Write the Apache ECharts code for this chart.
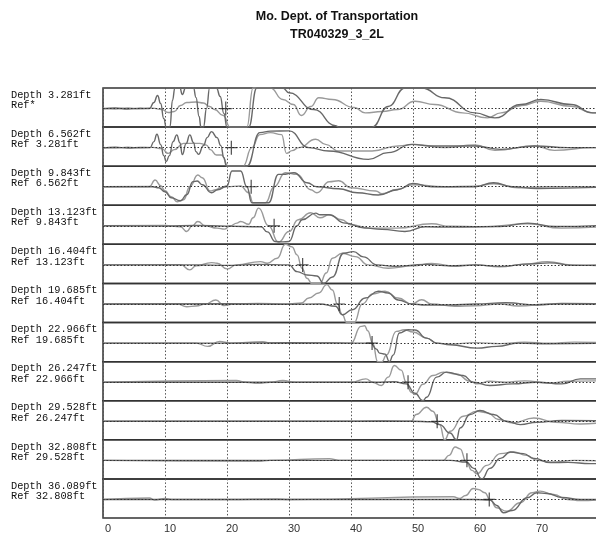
<!DOCTYPE html>
<html>
<head>
<meta charset="utf-8">
<script src="https://cdn.jsdelivr.net/npm/echarts@6/dist/echarts.min.js"></script>
<style>html,body{margin:0;padding:0;background:#fff;overflow:hidden;}#c{width:596px;height:534px;}</style>
</head>
<body>
<div id="c"></div>
<script>
// ---- data ----
const titleLines = ['Mo. Dept. of Transportation', 'TR040329_3_2L'];
const depthLabels = ['Depth 3.281ft','Depth 6.562ft','Depth 9.843ft','Depth 13.123ft','Depth 16.404ft','Depth 19.685ft','Depth 22.966ft','Depth 26.247ft','Depth 29.528ft','Depth 32.808ft','Depth 36.089ft'];
const refLabels = ['Ref*','Ref 3.281ft','Ref 6.562ft','Ref 9.843ft','Ref 13.123ft','Ref 16.404ft','Ref 19.685ft','Ref 22.966ft','Ref 26.247ft','Ref 29.528ft','Ref 32.808ft'];
const crossT = [19.8, 20.7, 23.9, 27.6, 32.2, 38.1, 43.4, 49.2, 53.9, 58.7, 62.3];
const xTickValues = [0, 10, 20, 30, 40, 50, 60, 70];

const ref1 = [[0,0.3],[2,-0.4],[4,0.5],[6,-0.3],[8,0.4],[9.5,-1],[10.5,-4],[11.5,-3],[12.5,3],[13.5,6],[15,6.5],[16.2,5.5],[17.2,2],[18,-1],[19.4,-7],[20.5,-18.5],[23.2,-18.5],[24.2,20.5],[27,20.5],[29,9],[30.7,4],[32,-7],[33.5,2],[34.8,10.7],[37,9],[40.5,1],[42.3,-4.3],[45,-3],[47.5,-1],[50.3,7.3],[53.5,4],[58,-4.3],[62,-9.3],[64.2,-4.3],[67.5,3],[70.6,7.3],[75.5,2.3],[79,-4.3],[82,-5]];
const depth1 = [[0,-0.3],[2,0.5],[4,-0.5],[6,0.3],[7.5,0],[8.2,6],[8.8,13],[9.3,5],[9.8,-10],[10.2,-18.5],[10.8,-18.5],[11.2,8],[11.6,20.5],[12.4,20.5],[12.8,14],[13.3,20.5],[14.6,20.5],[15,11],[15.5,-8],[15.8,-18.5],[16.2,-18.5],[16.7,0],[17.2,20.5],[18.3,20.5],[18.9,12],[19.5,-5],[20,-18.5],[23.5,-18.5],[24.8,20.5],[29,20.5],[30,15.7],[34,-1],[37.5,-17],[38,-18.5],[43.4,-18.5],[46,2],[48.7,20.5],[51.4,20.5],[55.1,10.7],[60,-4.3],[63.2,-9.3],[67.4,4],[70.6,9],[75.5,4],[79,-4.3],[82,-5]];

const ref2 = [[0,0.3],[2,-0.4],[4,0.4],[6,-0.3],[8,0.3],[9.5,-1],[10.5,-5.7],[11.5,-2],[13,4.3],[15.6,4.3],[16.7,2.5],[17.3,-2],[18.3,-7.3],[19.1,-7.3],[20.2,-18.5],[22.6,-18.5],[24,0],[25.3,13],[27,15],[28.8,13],[29.6,-5.7],[30.5,-3],[31.6,0],[34.3,8.3],[35.9,3.3],[38,-3.3],[43.4,-3.3],[47.6,1.7],[50.3,3.3],[55.1,0],[60,2.7],[63.2,-2.7],[69.6,1.7],[72.8,-2.7],[79,0],[82,0]];
const depth2 = [[0,-0.3],[2,0.4],[4,-0.4],[6,0.3],[7.6,0],[8.2,6],[8.7,13.3],[9.3,3],[9.8,-8],[10.2,-14],[10.7,-8],[11.3,6],[11.9,12.7],[12.4,5],[12.8,-7],[13.4,4],[14,12.7],[14.6,5],[15,-4],[15.4,-6.7],[16.2,2],[16.8,10],[17.5,16],[18.4,10],[19,2],[19.5,-10],[19.9,-18.5],[23.2,-18.5],[25.3,15],[27,16.5],[30,16.7],[33.2,0],[36.4,-3.3],[42.8,-11.7],[46,-5],[49.8,3.3],[52.5,1.7],[60,1.7],[64.2,-1.7],[69.6,1.7],[75,0],[82,0]];

const ref3 = [[0,0],[7.5,0.3],[8.4,6.7],[9.3,1],[10,-4],[11,-10],[12,-15],[13,-13],[14,0],[15.3,11.7],[16,9],[17.3,-4.3],[18.2,-3],[18.9,-1],[20,0],[22.2,0.7],[23.5,-6],[24.2,-16],[26.2,-16],[27.6,0],[29.4,14],[31.3,12.3],[33.5,-3],[34.5,-6],[36.5,5],[38,6],[40,-1],[44,-4.3],[45,-7],[47.4,-2.7],[50,2],[55,0],[60,0.5],[63,3],[67,-1],[72,0],[82,0]];
const depth3 = [[0,0],[8,0],[9,-1],[10,-5],[11,-11],[12.5,-14],[13.5,-8],[14.5,5],[15.2,5.7],[16,2],[17.5,-6],[18.5,-3],[20,0.7],[20.8,15.7],[22.2,15.7],[23.2,0],[24,-16],[26.7,-16],[28.3,12.3],[29,12.3],[30.8,14],[32.9,4],[34.5,0],[38,-2],[41,-6],[44.4,-8.3],[47.5,-3],[50,3.3],[53,0],[60,0],[63,4],[66,0],[70,-1.7],[82,0]];

const ref4 = [[0,0],[10,0.3],[12.5,-1],[13.5,-5.7],[14.4,0],[15.3,4.3],[16.5,0],[18.4,-2.3],[19.6,-3.3],[20.5,0],[21.6,2.7],[22.2,4.3],[23.5,1.5],[24.2,8],[25.1,17.7],[26.7,0],[28.3,-16.3],[30,-5.7],[31.5,6],[33.5,13],[35,8],[36.5,11],[38.5,6],[40,1],[43,-2.3],[47.4,-2.3],[53,2],[56,-0.5],[61,-1],[68.5,2],[73.9,-2.3],[82,0]];
const depth4 = [[0,0],[10,-0.3],[15,0.3],[20,-0.3],[25.5,-1],[26.5,-6],[27.8,-15.7],[29,-16],[30,-15.7],[31.3,0],[32.1,6],[34.3,12.7],[35,11],[36.4,11],[39.1,2.7],[42,-2],[45,-3.5],[48.7,-5.7],[52,-1],[56,-1.3],[60,-1],[64,-0.7],[68.5,2.7],[73,-0.7],[82,1]];

const ref5 = [[0,0],[12.5,0.3],[14,-5],[15,-1],[17.5,2.3],[18.4,1.7],[20,-4],[21.5,0],[25.4,3.3],[26.5,1.7],[28.1,6.7],[29.4,20.5],[30.5,18],[31.3,10],[32.1,-3.3],[32.9,-13.3],[33.7,-18.5],[35,-18.5],[36,-8],[37,6.7],[38.6,11.7],[40.7,8.3],[42.8,0],[46,-3.3],[50,-1],[53,1.5],[57,-1.5],[60,0],[64,-2],[68,0.5],[71.7,3.3],[75.5,0],[82,-1.5]];
const depth5 = [[0,0],[15,0],[20,-0.5],[25,0.5],[30,0],[31.3,-6.7],[32.9,-10],[34.5,-11],[35.6,-18.5],[37,-12],[38.8,11.7],[40.4,13.3],[42,8],[44.2,0],[47,-1.5],[52,0.5],[56,-1],[60,0],[64,-1.5],[69,1],[72,2],[76,-0.5],[82,0]];

const ref6 = [[0,0],[12,0],[13.5,-2.7],[15,-2],[16.5,0],[18.2,4],[19.5,-1.5],[21,0],[25,0.5],[30,0],[32,1],[33.2,6],[34.8,11],[36.1,19.3],[37,14],[37.8,0],[38.6,-10.7],[39.3,-18.5],[40.5,-18.5],[41.8,0],[43.5,10],[45.5,12.7],[47.6,6],[49.8,0],[51.4,4.3],[53,0],[56.7,-2.3],[60,-1.7],[64,0],[67,-2],[72,0],[82,-0.7]];
const depth6 = [[0,0],[20,0.3],[30,-0.3],[35,0],[37.5,-2.3],[38.6,-10.7],[40.2,-5.7],[42.3,6],[44.4,12.7],[46,11],[47.6,4],[49.8,0],[52,-1],[56,-1],[60,0],[65,1.3],[70,-1],[74,0.5],[82,0]];

const ref7 = [[0,0],[15,0],[16.9,-3.3],[18.8,1.7],[20.5,0],[25.8,1.3],[27,0],[30,0],[36.5,0.5],[40,0],[41.6,16.7],[42.2,17.3],[42.7,12.3],[43.5,0],[44.3,-18.5],[45,-18.5],[45.7,-12],[47.3,11.7],[48.6,13.3],[50,11],[52.2,5],[53.8,0],[56,-1],[60,0.5],[64,-0.5],[68,1],[72,0],[76,1],[82,0]];
const depth7 = [[0,0],[20,0],[30,0.3],[40,0],[43.2,0],[44.1,-6],[44.6,-10],[45.5,-11],[46.2,-18.5],[46.8,-12],[47.8,10],[49.2,13.3],[50.3,13],[52.2,5],[53.8,0],[56,-1.7],[60.3,-5],[63.5,-3.3],[67,0],[72,-0.7],[82,0]];

const ref8 = [[0,0],[21.5,1.7],[23,0],[25,-1.2],[27,0],[29,1.7],[31,0],[40,0],[42.4,3.3],[43.5,0],[44.9,-3.3],[46,5],[47,16.7],[48.1,12],[48.9,0],[49.7,-10],[50.3,-12.3],[51.6,-2],[53.2,6.7],[54.9,10],[57,8.3],[59.2,1],[60.3,-1.7],[62.4,1],[65,0],[68,1.3],[72,-1],[75,1],[82,1.7]];
const depth8 = [[0,0],[40,0],[44,0],[47,0.5],[48.9,-1.7],[50.3,-11],[51.6,-18.5],[52.2,-15],[53.8,5],[55.4,10],[58.1,6.7],[59.7,0],[62.4,-3.3],[66,-1.7],[70,0],[74,-1.7],[77,3.3],[82,3.3]];

const ref9 = [[0,0],[40,0],[45,0.5],[49.7,0],[50.5,6.7],[52.2,14],[53.2,10],[54.3,-3.3],[55.1,-18.5],[56,-10],[58.1,5],[60.3,10],[62,8.5],[63.8,1.7],[66.2,-1.7],[69.5,3.3],[73,-1],[77,-2.7],[82,0]];
const depth9 = [[0,0],[40,0],[50,0],[53,-0.5],[54.3,-3.3],[56,-11.7],[57,-18.5],[57.6,-6.7],[59.2,6.7],[60.8,10.7],[63,6.7],[65.1,0],[67.3,-3.3],[70,-1],[74,0.7],[82,0.5]];

const ref10 = [[0,0],[25,-1],[27,0],[36.5,1.7],[38,0],[54.9,0],[55.8,5],[56.8,13.3],[57.6,11.5],[58.6,-1.7],[59.5,-10],[60.3,-13.3],[61.9,-5],[64.1,6.7],[66.2,8.3],[68.3,5],[70,0],[72.5,-1.7],[76,0],[82,-1]];
const depth10 = [[0,0],[40,0],[50,0],[56,0],[58.6,-1.7],[59.8,-8],[61.1,-18.5],[62.4,-8],[64.1,2],[65.7,8.3],[67.8,6.7],[69.5,2],[72.2,-2.3],[75,-2],[78.6,-3.3],[82,-2.5]];

const ref11 = [[0,0],[7.5,1.5],[8.3,-0.5],[10,1],[11,0],[20,0],[28,0.5],[30,0],[56.5,2.7],[57.5,1],[58.5,4],[59.7,11],[60.5,10],[61.6,6.7],[62.4,0],[63.5,-8.3],[65.1,-11.7],[67.3,-3.3],[69.2,6.7],[70.5,8.3],[72.7,5],[74.9,0],[77,-1],[82,1]];
const depth11 = [[0,0],[40,0],[60,0],[62.4,-0.5],[63.5,-6],[64.6,-13.3],[66,-11],[68.4,1.7],[70,6.7],[71.6,6],[74,2],[77,0],[82,0]];

const refTraces = [ref1, ref2, ref3, ref4, ref5, ref6, ref7, ref8, ref9, ref10, ref11];
const depthTraces = [depth1, depth2, depth3, depth4, depth5, depth6, depth7, depth8, depth9, depth10, depth11];

// ---- layout ----
const N = 11;
const plotTop = 88, plotBottom = 518, plotLeft = 103;
const xMax = 82, pxPerUnit = 6.2;
const plotWidth = xMax * pxPerUnit;
const panelH = (plotBottom - plotTop) / N;
const yMin = -18.5, yMax = 20.5;
const labelFont = '10.3px "Liberation Mono", "DejaVu Sans Mono", monospace';

const grids = [], xAxes = [], yAxes = [], series = [], graphics = [];
for (let i = 0; i < N; i++) {
  const top = plotTop + i * panelH;
  grids.push({ left: plotLeft, top: top, width: plotWidth, height: panelH, show: true,
    outerBoundsMode: 'none',
    borderColor: '#333', borderWidth: 1.5, backgroundColor: 'transparent', containLabel: false });
  const last = i === N - 1;
  xAxes.push({ type: 'value', gridIndex: i, min: 0, max: xMax, interval: 10,
    axisLine: { show: false }, axisTick: { show: false },
    axisLabel: { show: last, color: '#333', fontSize: 11, fontFamily: 'Liberation Sans, Arial, sans-serif', margin: 5,
      padding: [0, 0, 0, 10], showMaxLabel: false,
      formatter: v => (xTickValues.indexOf(v) >= 0 ? String(v) : '') },
    splitLine: { show: true, lineStyle: { color: '#555', width: 1, type: [1.5, 2] } } });
  yAxes.push({ type: 'value', gridIndex: i, min: yMin, max: yMax,
    axisLine: { show: false }, axisTick: { show: false }, axisLabel: { show: false }, splitLine: { show: false } });

  series.push({ type: 'line', xAxisIndex: i, yAxisIndex: i, data: refTraces[i], showSymbol: false,
    smooth: 0.5, smoothMonotone: 'x',
    lineStyle: { color: '#9a9a9a', width: 1.4 }, silent: true, z: 2,
    markLine: { silent: true, symbol: 'none', label: { show: false },
      lineStyle: { color: '#333', width: 1.1, type: [1.5, 2] }, data: [{ yAxis: 0 }] } });
  series.push({ type: 'line', xAxisIndex: i, yAxisIndex: i, data: depthTraces[i], showSymbol: false,
    smooth: 0.5, smoothMonotone: 'x',
    lineStyle: { color: '#686868', width: 1.4 }, silent: true, z: 3 });
  series.push({ type: 'scatter', xAxisIndex: i, yAxisIndex: i, data: [[crossT[i], 0]],
    symbol: 'path://M0,6.4h12v1.2h-12z M5.4,0h1.2v14h-1.2z', symbolSize: [12, 14],
    itemStyle: { color: '#222' }, silent: true, z: 5 });

  graphics.push({ type: 'text', x: 11, y: top + 7, style: { text: depthLabels[i],
    font: labelFont, fill: '#111', verticalAlign: 'middle' } });
  graphics.push({ type: 'text', x: 11, y: top + 17.5, style: { text: refLabels[i],
    font: labelFont, fill: '#111', verticalAlign: 'middle' } });
}
graphics.push({ type: 'text', x: 337, y: 17, style: { text: titleLines[0],
  font: 'bold 12.5px "Liberation Sans", Arial, sans-serif', fill: '#111', align: 'center', verticalAlign: 'middle' } });
graphics.push({ type: 'text', x: 337, y: 35, style: { text: titleLines[1],
  font: 'bold 12.5px "Liberation Sans", Arial, sans-serif', fill: '#111', align: 'center', verticalAlign: 'middle' } });

const chart = echarts.init(document.getElementById('c'), null, { renderer: 'canvas' });
chart.setOption({
  animation: false,
  backgroundColor: '#fff',
  grid: grids, xAxis: xAxes, yAxis: yAxes, series: series, graphic: graphics
});
</script>
</body>
</html>
